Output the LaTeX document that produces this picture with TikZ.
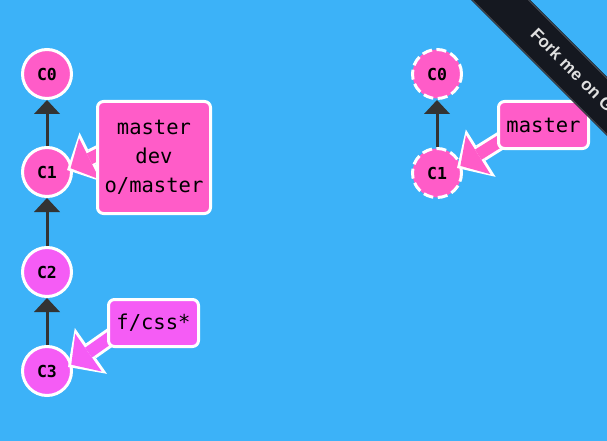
\documentclass[tikz,border=0pt]{standalone}
\usepackage{fontspec}
\setmonofont{DejaVu Sans Mono}
\newfontfamily\ribbonfont{Liberation Sans}
\usetikzlibrary{arrows.meta}
\pgfdeclarelayer{back}
\pgfsetlayers{back,main}
\definecolor{bgblue}{RGB}{60,178,248}
\definecolor{mpink}{RGB}{255,92,200}
\definecolor{fpink}{RGB}{245,92,245}
\definecolor{edgegray}{RGB}{51,51,51}
\definecolor{ribbon}{RGB}{21,24,32}
\definecolor{ribbonrim}{RGB}{75,78,86}

\begin{document}
\begin{tikzpicture}[x=1pt,y=-1pt,
  commit/.style={circle,draw=white,line width=3pt,minimum size=49pt,inner sep=0pt,
    font=\ttfamily\bfseries\fontsize{16.5}{16.5}\selectfont},
  ghost/.style={commit,dash pattern=on 10pt off 4.5pt},
  branch/.style={draw=white,line width=3pt,rounded corners=6pt,inner sep=0pt,align=center,
    font=\ttfamily\fontsize{20.5}{29}\selectfont},
  parent/.style={draw=edgegray,line width=3pt,-{Triangle[length=14pt,width=26pt,line width=0pt]}},
  tagrim/.style={draw=white,line width=18pt,-{Triangle[length=28pt,width=56pt,line width=0pt]}},
  tagfill/.style={draw=#1,line width=12pt,shorten >=4pt,-{Triangle[length=21pt,width=46pt,line width=0pt]}},
  ]
\useasboundingbox (0,0) rectangle (607,441);

\begin{pgfonlayer}{back}
\fill[bgblue] (0,0) rectangle (607,441);
%left - commits
\node[commit,fill=mpink] (c0) at (47,74)  {C0};
\node[commit,fill=mpink] (c1) at (47,172) {C1};
\node[commit,fill=fpink] (c2) at (47,272) {C2};
\node[commit,fill=fpink] (c3) at (47,371) {C3};
%right - commits
\node[ghost,fill=mpink] (o0) at (437,74)  {C0};
\node[ghost,fill=mpink] (o1) at (437,173) {C1};
\end{pgfonlayer}

%branch boxes
\node[branch,fill=mpink,minimum width=113pt,minimum height=112pt] (mdo) at (154,157.5) {master\\dev\\o/master};
\node[branch,fill=fpink,minimum width=90pt,minimum height=47pt] (css) at (153.5,323) {f/css*};
\node[branch,fill=mpink,minimum width=90pt,minimum height=47pt] (omaster) at (543.5,125) {master};

\begin{pgfonlayer}{back}
%parents
\draw[parent] (c1) -- (c0);
\draw[parent] (c2) -- (c1);
\draw[parent] (c3) -- (c2);
\draw[parent] (o1) -- (o0);
%branch arrows
\draw[tagrim] ([xshift=9pt,yshift=6.5pt]mdo.west) -- ([xshift=20pt,yshift=2pt]c1.center);
\draw[tagfill=mpink] ([xshift=9pt,yshift=6.5pt]mdo.west) -- ([xshift=20pt,yshift=2pt]c1.center);
\draw[tagrim] ([xshift=8pt,yshift=-11pt]css.west) -- ([xshift=21pt,yshift=4pt]c3.center);
\draw[tagfill=fpink] ([xshift=8pt,yshift=-11pt]css.west) -- ([xshift=21pt,yshift=4pt]c3.center);
\draw[tagrim] ([xshift=8.5pt,yshift=-12.6pt]omaster.west) -- ([xshift=20pt,yshift=5pt]o1.center);
\draw[tagfill=mpink] ([xshift=8.5pt,yshift=-12.6pt]omaster.west) -- ([xshift=20pt,yshift=5pt]o1.center);
\end{pgfonlayer}

%ribbon
\fill[ribbon] (471,0) -- (530,0) -- (607,77) -- (607,136) -- cycle;
\draw[ribbonrim,line width=1pt] (472.5,0) -- (607,134.5);
\draw[ribbonrim,line width=1pt] (528.5,0) -- (607,78.5);
\node[rotate=-45,text=white!88!black,font=\ribbonfont\bfseries\fontsize{17}{17}\selectfont] (fork) at (588,85) {Fork me on GitHub};
\end{tikzpicture}
\end{document}
